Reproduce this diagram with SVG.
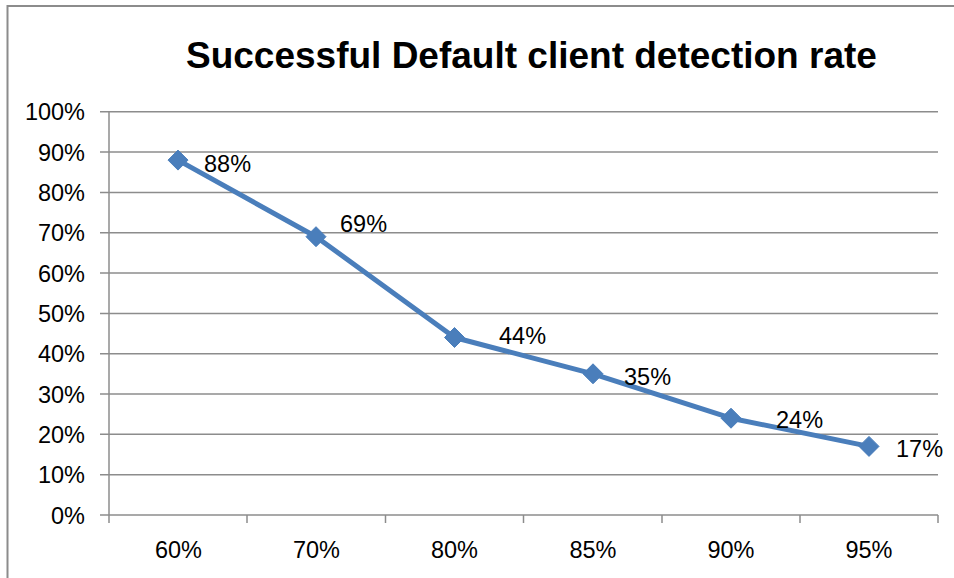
<svg xmlns="http://www.w3.org/2000/svg" width="954" height="578" viewBox="0 0 954 578">
<style>
  .frame { fill: none; stroke: #8c8c8c; stroke-width: 2; }
  .grid { stroke: #8c8c8c; stroke-width: 1.5; fill: none; }
  .axis { stroke: #8c8c8c; stroke-width: 1.5; fill: none; }
  .title { font-family: "Liberation Sans", Arial, sans-serif; font-weight: bold; font-size: 37px; fill: #000; }
  .lbl { font-family: "Liberation Sans", Arial, sans-serif; font-size: 23.5px; fill: #000; }
  .ylbl { text-anchor: end; }
  .xlbl { text-anchor: middle; }
  .series { fill: none; stroke: #4A7EBB; stroke-width: 5; stroke-linejoin: round; }
  .marker { fill: #4A7EBB; stroke: #4A7EBB; stroke-width: 1; }
</style>
<defs>
  <path id="dia" d="M0,-10 L10,0 L0,10 L-10,0 Z"/>
</defs>
<rect x="0" y="0" width="954" height="578" fill="#ffffff"/>
<rect class="frame" x="7.5" y="6" width="960" height="600"/>
<text id="title" class="title" x="186" y="68">Successful Default client detection rate</text>

<g id="gridlines">
  <line class="grid" x1="100" y1="111.7" x2="938" y2="111.7"/>
  <line class="grid" x1="100" y1="152" x2="938" y2="152"/>
  <line class="grid" x1="100" y1="192.4" x2="938" y2="192.4"/>
  <line class="grid" x1="100" y1="232.7" x2="938" y2="232.7"/>
  <line class="grid" x1="100" y1="273" x2="938" y2="273"/>
  <line class="grid" x1="100" y1="313.4" x2="938" y2="313.4"/>
  <line class="grid" x1="100" y1="353.7" x2="938" y2="353.7"/>
  <line class="grid" x1="100" y1="394" x2="938" y2="394"/>
  <line class="grid" x1="100" y1="434.3" x2="938" y2="434.3"/>
  <line class="grid" x1="100" y1="474.7" x2="938" y2="474.7"/>
</g>
<g id="axes">
  <line class="axis" x1="109" y1="111.7" x2="109" y2="523"/>
  <line class="axis" x1="100" y1="515" x2="938" y2="515"/>
  <line class="axis" x1="247" y1="515" x2="247" y2="523"/>
  <line class="axis" x1="385.5" y1="515" x2="385.5" y2="523"/>
  <line class="axis" x1="523.5" y1="515" x2="523.5" y2="523"/>
  <line class="axis" x1="662" y1="515" x2="662" y2="523"/>
  <line class="axis" x1="800" y1="515" x2="800" y2="523"/>
  <line class="axis" x1="938" y1="515" x2="938" y2="523"/>
</g>
<g id="y-labels" class="lbl ylbl">
  <text x="85" y="120.2">100%</text>
  <text x="85" y="160.5">90%</text>
  <text x="85" y="200.9">80%</text>
  <text x="85" y="241.2">70%</text>
  <text x="85" y="281.5">60%</text>
  <text x="85" y="321.9">50%</text>
  <text x="85" y="362.2">40%</text>
  <text x="85" y="402.5">30%</text>
  <text x="85" y="442.8">20%</text>
  <text x="85" y="483.2">10%</text>
  <text x="85" y="523.5">0%</text>
</g>
<g id="x-labels" class="lbl xlbl">
  <text x="178.5" y="558">60%</text>
  <text x="316.5" y="558">70%</text>
  <text x="454.5" y="558">80%</text>
  <text x="593" y="558">85%</text>
  <text x="731" y="558">90%</text>
  <text x="869" y="558">95%</text>
</g>
<g id="connectors">
  <polyline class="series" points="178,160.1 316,236.7 454.5,337.5 593,373.8 731,418.2 869,446.4"/>
</g>
<g id="point-60">
  <use href="#dia" class="marker" x="178" y="160.1"/>
  <text class="lbl" x="204" y="172">88%</text>
</g>
<g id="point-70">
  <use href="#dia" class="marker" x="316" y="236.7"/>
  <text class="lbl" x="340" y="232">69%</text>
</g>
<g id="point-80">
  <use href="#dia" class="marker" x="454.5" y="337.5"/>
  <text class="lbl" x="499" y="344">44%</text>
</g>
<g id="point-85">
  <use href="#dia" class="marker" x="593" y="373.8"/>
  <text class="lbl" x="624" y="385">35%</text>
</g>
<g id="point-90">
  <use href="#dia" class="marker" x="731" y="418.2"/>
  <text class="lbl" x="776" y="428">24%</text>
</g>
<g id="point-95">
  <use href="#dia" class="marker" x="869" y="446.4"/>
  <text class="lbl" x="896" y="457">17%</text>
</g>
</svg>
